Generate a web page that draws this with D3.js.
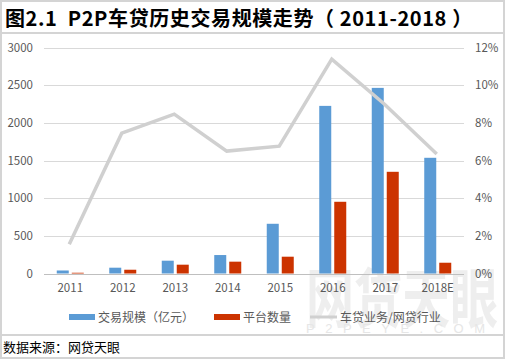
<!DOCTYPE html>
<html><head><meta charset="utf-8">
<script src="https://cdn.jsdelivr.net/npm/d3@7"></script>
<style>body{margin:0;background:#fff}svg{display:block}</style>
</head><body>
<script>
const categories = ["2011","2012","2013","2014","2015","2016","2017","2018E"];
const volume = [40, 77, 170, 245, 660, 2225, 2464, 1536];
const platforms = [10, 50, 117, 157, 223, 952, 1350, 143];
const ratio = [1.55, 7.45, 8.46, 6.5, 6.76, 11.38, 9.0, 6.34];
const leftTicks = [0,500,1000,1500,2000,2500,3000];
const rightTicks = [0,2,4,6,8,10,12];
const seriesNames = ["交易规模（亿元）","平台数量","车贷业务/网贷行业"];

const W=505,H=359;
const svg=d3.select("body").append("svg").attr("width",W).attr("height",H);
const font='"Noto Sans CJK SC","Microsoft YaHei",sans-serif';

// frame
svg.append("rect").attr("x",1).attr("y",1).attr("width",W-2).attr("height",H-2).attr("fill","none").attr("stroke","#d4d4d4").attr("stroke-width",2);
svg.append("line").attr("x1",0).attr("x2",W).attr("y1",33).attr("y2",33).attr("stroke","#d4d4d4").attr("stroke-width",2);
svg.append("line").attr("x1",0).attr("x2",W).attr("y1",335).attr("y2",335).attr("stroke","#d4d4d4").attr("stroke-width",2);

svg.append("text").attr("x",5).attr("y",26).attr("font-family",font).attr("font-weight","bold").attr("font-size",20).attr("fill","#000")
  .attr("letter-spacing",0.6).style("white-space","pre")
  .text("图2.1  P2P车贷历史交易规模走势（ 2011-2018 ）");

// watermark
svg.append("text").attr("transform","translate(402,322) scale(1,1.35)").attr("text-anchor","middle").attr("font-family",font).attr("font-weight","bold").attr("font-size",48).attr("fill","#ebebeb").attr("fill-opacity",0.85).text("网贷天眼");
svg.append("text").attr("x",306).attr("y",333).attr("font-family","Arial,sans-serif").attr("font-size",13).attr("letter-spacing",10.5).attr("fill","#e6e6e6").text("P2PEYE.COM");

const x0=d3.scaleBand().domain(categories).range([44,464]);
const y=d3.scaleLinear().domain([0,3000]).range([273.5,47.5]);
const yr=d3.scaleLinear().domain([0,12]).range([273.5,47.5]);

const g=svg.append("g");
// grid
g.selectAll(".grid").data(leftTicks).join("line").attr("x1",44).attr("x2",464)
  .attr("y1",d=>Math.round(y(d))+0.5).attr("y2",d=>Math.round(y(d))+0.5).attr("stroke",d=>d===0?"#bfbfbf":"#d9d9d9").attr("stroke-width",1);

const axL=d3.axisLeft(y).tickValues(leftTicks).tickSize(0).tickPadding(0).tickFormat(d3.format("d"));
const gl=svg.append("g").attr("transform","translate(33,0)").call(axL);
const axR=d3.axisRight(yr).tickValues(rightTicks).tickSize(0).tickPadding(0).tickFormat(d=>d+"%");
const gr=svg.append("g").attr("transform","translate(475,0)").call(axR);
const axB=d3.axisBottom(x0).tickSize(0).tickPadding(0);
const gb=svg.append("g").attr("transform","translate(0,292)").call(axB);
[gl,gr,gb].forEach(a=>{a.select(".domain").remove();a.selectAll("text").attr("font-family",font).attr("font-size",11.5).attr("fill","#595959");});
gb.selectAll("text").attr("dy",0);

const bw=12, gap=3;
g.selectAll(".b1").data(volume).join("rect").attr("fill","#5b9bd5")
  .attr("x",(d,i)=>x0(categories[i])+x0.bandwidth()/2-bw-gap/2).attr("width",bw)
  .attr("y",d=>y(d)).attr("height",d=>y(0)-y(d));
g.selectAll(".b2").data(platforms).join("rect").attr("fill","#cc3300")
  .attr("x",(d,i)=>x0(categories[i])+x0.bandwidth()/2+gap/2).attr("width",bw)
  .attr("y",d=>y(d)).attr("height",d=>y(0)-y(d));

const line=d3.line().x((d,i)=>x0(categories[i])+x0.bandwidth()/2-1).y(d=>yr(d));
g.append("path").datum(ratio).attr("d",line).attr("fill","none").attr("stroke","#d0d0d0").attr("stroke-width",3.5);

// legend
const lg=svg.append("g").attr("font-family",font).attr("font-size",12).attr("fill","#595959");
lg.append("rect").attr("x",69).attr("y",314).attr("width",26).attr("height",6).attr("fill","#5b9bd5");
lg.append("text").attr("x",98).attr("y",321.5).text(seriesNames[0]);
lg.append("rect").attr("x",214).attr("y",314).attr("width",26).attr("height",6).attr("fill","#cc3300");
lg.append("text").attr("x",243).attr("y",321.5).text(seriesNames[1]);
lg.append("line").attr("x1",310).attr("x2",337).attr("y1",317).attr("y2",317).attr("stroke","#d0d0d0").attr("stroke-width",3);
lg.append("text").attr("x",340).attr("y",321.5).text(seriesNames[2]);

svg.append("text").attr("x",3).attr("y",352).attr("font-family",font).attr("font-size",13).attr("fill","#000").text("数据来源：网贷天眼");
</script>
</body></html>
